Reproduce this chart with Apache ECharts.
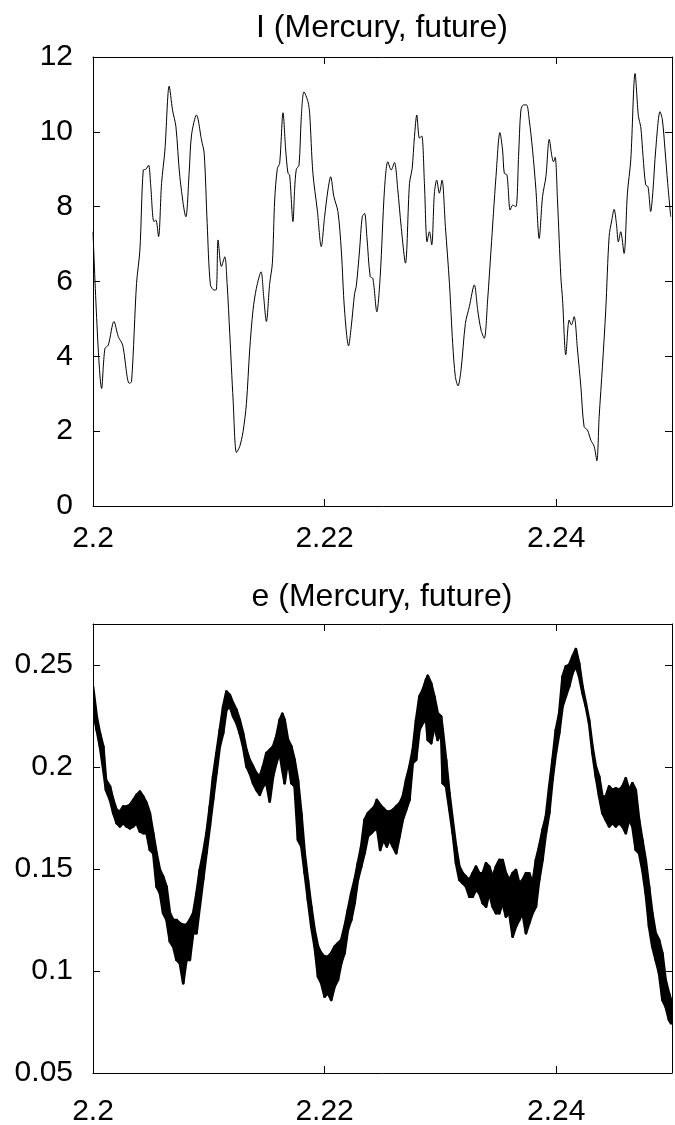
<!DOCTYPE html>
<html>
<head>
<meta charset="utf-8">
<script src="https://cdn.jsdelivr.net/npm/echarts@6/dist/echarts.min.js"></script>
<style>html,body{margin:0;padding:0;background:#fff}#c{width:675px;height:1125px}</style>
</head>
<body>
<div id="c"></div>
<script>
// ---- Top panel: inclination I (Mercury, future) ----
var iX = [2.20000,2.20075,2.20103,2.20132,2.20181,2.20218,2.20256,2.20313,2.20333,2.20376,2.20405,2.20434,2.20457,2.20480,2.20497,2.20526,2.20543,2.20566,2.20592,2.20621,2.20658,2.20687,2.20716,2.20750,2.20802,2.20830,2.20851,2.20894,2.20937,2.20960,2.20986,2.21014,2.21046,2.21066,2.21080,2.21109,2.21138,2.21158,2.21181,2.21210,2.21239,2.21267,2.21296,2.21325,2.21353,2.21382,2.21411,2.21451,2.21474,2.21497,2.21526,2.21549,2.21569,2.21592,2.21612,2.21641,2.21664,2.21684,2.21698,2.21727,2.21741,2.21756,2.21779,2.21799,2.21822,2.21856,2.21871,2.21899,2.21937,2.21971,2.22000,2.22029,2.22052,2.22080,2.22115,2.22144,2.22172,2.22207,2.22230,2.22259,2.22273,2.22302,2.22325,2.22345,2.22365,2.22394,2.22417,2.22451,2.22480,2.22517,2.22546,2.22575,2.22603,2.22632,2.22661,2.22698,2.22733,2.22756,2.22776,2.22796,2.22819,2.22839,2.22862,2.22885,2.22905,2.22925,2.22948,2.22968,2.22991,2.23014,2.23043,2.23078,2.23106,2.23129,2.23152,2.23178,2.23216,2.23250,2.23293,2.23322,2.23351,2.23379,2.23408,2.23437,2.23480,2.23514,2.23537,2.23552,2.23575,2.23603,2.23624,2.23652,2.23675,2.23695,2.23718,2.23744,2.23767,2.23796,2.23825,2.23853,2.23882,2.23911,2.23940,2.23963,2.23977,2.23991,2.24011,2.24040,2.24055,2.24083,2.24112,2.24132,2.24155,2.24184,2.24213,2.24241,2.24270,2.24299,2.24328,2.24351,2.24371,2.24399,2.24428,2.24457,2.24480,2.24500,2.24520,2.24537,2.24557,2.24586,2.24615,2.24644,2.24681,2.24710,2.24730,2.24750,2.24773,2.24793,2.24816,2.24836,2.24859,2.24897,2.24917,2.24940,2.24963,2.24989];
var iY = [7.33,3.14,4.21,4.30,4.93,4.53,4.30,3.28,3.32,5.95,6.84,8.98,9.00,9.11,8.62,7.60,7.64,7.20,8.62,9.51,11.22,10.58,10.14,8.80,7.73,8.89,9.92,10.45,9.78,9.43,7.55,5.91,5.77,5.79,7.11,6.40,6.66,5.95,4.61,2.83,1.43,1.59,1.99,2.74,4.17,5.24,5.82,6.26,5.59,4.93,5.95,6.49,8.18,9.02,9.16,10.51,9.51,8.89,8.85,7.60,8.45,9.00,9.11,10.41,11.07,10.81,10.49,8.89,7.91,6.93,7.73,8.45,8.80,8.27,7.87,6.84,5.24,4.28,4.79,5.68,5.86,6.84,7.73,7.82,7.20,6.13,6.08,5.19,6.13,8.45,9.20,8.98,9.18,8.45,7.47,6.49,8.62,9.02,9.87,10.45,9.83,9.89,8.62,7.06,7.33,6.98,8.36,8.71,8.36,8.71,7.47,5.95,4.35,3.46,3.21,3.63,4.88,5.33,5.91,5.24,4.70,4.48,5.51,6.84,8.80,9.98,9.51,8.89,8.85,7.91,8.04,8.00,9.34,10.58,10.72,10.72,10.32,9.51,8.45,7.15,8.27,8.80,9.80,9.34,9.20,9.32,8.18,6.13,5.51,4.04,4.97,4.84,5.06,4.17,3.19,2.12,2.03,1.76,1.59,1.21,2.39,3.72,5.24,7.20,7.64,7.93,7.55,7.06,7.33,6.75,8.36,9.25,11.56,10.41,10.14,9.34,8.58,8.53,7.87,8.45,9.51,10.54,10.32,9.51,8.62,7.73];

// ---- Bottom panel: eccentricity e (Mercury, future), upper / lower edge of the band ----
var eX = [2.20000,2.20032,2.20060,2.20089,2.20112,2.20147,2.20175,2.20204,2.20233,2.20261,2.20290,2.20319,2.20348,2.20376,2.20405,2.20434,2.20463,2.20491,2.20520,2.20549,2.20578,2.20606,2.20635,2.20664,2.20693,2.20721,2.20750,2.20779,2.20807,2.20836,2.20865,2.20894,2.20922,2.20951,2.20980,2.21009,2.21037,2.21066,2.21095,2.21124,2.21152,2.21181,2.21210,2.21239,2.21267,2.21296,2.21325,2.21353,2.21382,2.21411,2.21440,2.21468,2.21497,2.21526,2.21555,2.21583,2.21612,2.21635,2.21655,2.21684,2.21713,2.21741,2.21770,2.21799,2.21828,2.21856,2.21885,2.21914,2.21943,2.21971,2.22000,2.22029,2.22057,2.22086,2.22115,2.22144,2.22172,2.22201,2.22230,2.22259,2.22287,2.22316,2.22345,2.22374,2.22402,2.22431,2.22451,2.22480,2.22509,2.22537,2.22560,2.22589,2.22618,2.22647,2.22675,2.22704,2.22733,2.22761,2.22790,2.22819,2.22848,2.22876,2.22891,2.22920,2.22948,2.22977,2.23006,2.23020,2.23049,2.23078,2.23106,2.23135,2.23164,2.23193,2.23221,2.23250,2.23279,2.23307,2.23336,2.23365,2.23394,2.23422,2.23451,2.23480,2.23509,2.23537,2.23566,2.23595,2.23624,2.23652,2.23681,2.23710,2.23739,2.23767,2.23796,2.23825,2.23853,2.23882,2.23911,2.23940,2.23968,2.23997,2.24026,2.24055,2.24083,2.24112,2.24141,2.24170,2.24198,2.24227,2.24256,2.24284,2.24313,2.24342,2.24371,2.24399,2.24428,2.24457,2.24486,2.24514,2.24543,2.24572,2.24601,2.24629,2.24658,2.24687,2.24716,2.24744,2.24773,2.24802,2.24830,2.24859,2.24888,2.24917,2.24945,2.24974,2.24991];
var eUp = [0.2394,0.2247,0.2165,0.2100,0.1936,0.1904,0.1838,0.1789,0.1781,0.1806,0.1806,0.1814,0.1838,0.1863,0.1879,0.1855,0.1822,0.1773,0.1675,0.1577,0.1495,0.1462,0.1413,0.1283,0.1250,0.1250,0.1234,0.1226,0.1226,0.1250,0.1283,0.1381,0.1495,0.1577,0.1675,0.1806,0.1953,0.2067,0.2181,0.2296,0.2369,0.2353,0.2312,0.2279,0.2230,0.2165,0.2083,0.2034,0.2002,0.1969,0.1953,0.2002,0.2067,0.2083,0.2100,0.2149,0.2230,0.2260,0.2230,0.2132,0.2100,0.2034,0.1936,0.1773,0.1577,0.1446,0.1315,0.1201,0.1119,0.1087,0.1070,0.1070,0.1087,0.1119,0.1136,0.1152,0.1217,0.1299,0.1381,0.1446,0.1528,0.1610,0.1740,0.1773,0.1789,0.1806,0.1838,0.1814,0.1797,0.1781,0.1781,0.1789,0.1806,0.1822,0.1855,0.1936,0.2002,0.2083,0.2230,0.2345,0.2378,0.2427,0.2446,0.2410,0.2345,0.2263,0.2247,0.2181,0.2034,0.1871,0.1740,0.1610,0.1511,0.1479,0.1462,0.1446,0.1479,0.1511,0.1479,0.1479,0.1528,0.1511,0.1462,0.1511,0.1544,0.1544,0.1479,0.1446,0.1479,0.1495,0.1430,0.1446,0.1479,0.1479,0.1430,0.1544,0.1610,0.1691,0.1757,0.1904,0.2034,0.2181,0.2263,0.2443,0.2492,0.2500,0.2541,0.2577,0.2508,0.2394,0.2312,0.2230,0.2100,0.2002,0.1953,0.1855,0.1855,0.1904,0.1887,0.1895,0.1887,0.1904,0.1944,0.1887,0.1920,0.1887,0.1740,0.1642,0.1544,0.1413,0.1283,0.1185,0.1152,0.1087,0.0956,0.0891,0.0858];
var eLo = [0.2279,0.2181,0.2100,0.1985,0.1887,0.1838,0.1773,0.1724,0.1708,0.1724,0.1708,0.1699,0.1708,0.1724,0.1683,0.1675,0.1675,0.1593,0.1577,0.1413,0.1381,0.1283,0.1250,0.1144,0.1119,0.1054,0.1038,0.0940,0.1054,0.1054,0.1185,0.1185,0.1315,0.1446,0.1577,0.1708,0.1838,0.1969,0.2100,0.2165,0.2279,0.2296,0.2247,0.2214,0.2165,0.2100,0.2002,0.1969,0.1920,0.1887,0.1863,0.1904,0.1920,0.1830,0.1953,0.2018,0.2067,0.1985,0.1920,0.2034,0.1920,0.1904,0.1642,0.1610,0.1479,0.1348,0.1217,0.1119,0.0972,0.0940,0.0874,0.0891,0.0858,0.0923,0.0956,0.1038,0.1087,0.1201,0.1250,0.1332,0.1446,0.1511,0.1577,0.1659,0.1675,0.1691,0.1708,0.1593,0.1642,0.1610,0.1642,0.1610,0.1577,0.1659,0.1740,0.1789,0.1838,0.2018,0.2034,0.2181,0.2214,0.2230,0.2132,0.2116,0.2198,0.2132,0.2165,0.1920,0.1904,0.1789,0.1675,0.1528,0.1446,0.1430,0.1413,0.1364,0.1364,0.1397,0.1381,0.1332,0.1315,0.1381,0.1315,0.1283,0.1283,0.1332,0.1266,0.1283,0.1168,0.1217,0.1250,0.1283,0.1185,0.1234,0.1283,0.1315,0.1446,0.1544,0.1675,0.1773,0.1936,0.2067,0.2165,0.2296,0.2345,0.2394,0.2459,0.2492,0.2443,0.2361,0.2296,0.2214,0.2067,0.1953,0.1855,0.1773,0.1740,0.1708,0.1724,0.1708,0.1724,0.1708,0.1675,0.1740,0.1708,0.1593,0.1577,0.1495,0.1381,0.1217,0.1119,0.1054,0.0989,0.0858,0.0825,0.0760,0.0743];

var xTicks = {min: 2.2, max: 2.25, interval: 0.02};
var titles = ['I (Mercury, future)', 'e (Mercury, future)'];

var FONT = 'Liberation Sans';
var BLACK = '#000';

function pairs(xs, ys) { return xs.map(function (x, i) { return [x, ys[i]]; }); }
// one quad per interval of the band: [x0, up0, lo0, x1, up1, lo1]
var bandSegs = [];
for (var k = 0; k < eX.length - 1; k++) {
  bandSegs.push([eX[k], eUp[k], eLo[k], eX[k + 1], eUp[k + 1], eLo[k + 1]]);
}

function xAxisDef(grid, pos, showLabel, margin) {
  return {
    type: 'value', gridIndex: grid, position: pos,
    min: xTicks.min, max: xTicks.max, interval: xTicks.interval,
    axisLine: {show: true, onZero: false, lineStyle: {color: BLACK, width: 1}},
    axisTick: {show: true, inside: true, length: 7, lineStyle: {color: BLACK, width: 1}},
    splitLine: {show: false},
    axisLabel: {show: showLabel, showMaxLabel: false, margin: margin, color: BLACK,
      fontFamily: FONT, fontSize: 30}
  };
}
function yAxisDef(grid, pos, showLabel, min, max, interval) {
  return {
    type: 'value', gridIndex: grid, position: pos,
    min: min, max: max, interval: interval,
    axisLine: {show: true, onZero: false, lineStyle: {color: BLACK, width: 1}},
    axisTick: {show: true, inside: true, length: 7, lineStyle: {color: BLACK, width: 1}},
    splitLine: {show: false},
    axisLabel: {show: showLabel, showMaxLabel: interval === 2, margin: 20, color: BLACK,
      fontFamily: FONT, fontSize: 30}
  };
}

var chart = echarts.init(document.getElementById('c'), null, {renderer: 'canvas'});
chart.setOption({
  animation: false,
  backgroundColor: '#fff',
  title: [
    {text: titles[0], left: 382, top: 12, textAlign: 'center', padding: 0,
      textStyle: {fontFamily: FONT, fontSize: 32, fontWeight: 'normal', color: BLACK}},
    {text: titles[1], left: 382, top: 581, textAlign: 'center', padding: 0,
      textStyle: {fontFamily: FONT, fontSize: 32, fontWeight: 'normal', color: BLACK}}
  ],
  grid: [
    {left: 93, right: 3, top: 57, height: 449, containLabel: false, outerBoundsMode: 'none'},
    {left: 93, right: 3, top: 624, height: 449, containLabel: false, outerBoundsMode: 'none'}
  ],
  xAxis: [
    xAxisDef(0, 'bottom', true, 18),
    xAxisDef(0, 'top', false, 8),
    xAxisDef(1, 'bottom', true, 24),
    xAxisDef(1, 'top', false, 8)
  ],
  yAxis: [
    yAxisDef(0, 'left', true, 0, 12, 2),
    yAxisDef(0, 'right', false, 0, 12, 2),
    yAxisDef(1, 'left', true, 0.05, 0.27, 0.05),
    yAxisDef(1, 'right', false, 0.05, 0.27, 0.05)
  ],
  series: [
    {type: 'line', xAxisIndex: 0, yAxisIndex: 0, data: pairs(iX, iY), showSymbol: false,
      symbol: 'none', smooth: 0.3, lineStyle: {color: BLACK, width: 1}},
    {type: 'custom', xAxisIndex: 2, yAxisIndex: 2, data: bandSegs, clip: true,
      encode: {x: [0, 3], y: [1, 2, 4, 5]},
      renderItem: function (params, api) {
        var a = api.coord([api.value(0), api.value(1)]);
        var b = api.coord([api.value(3), api.value(4)]);
        var c = api.coord([api.value(3), api.value(5)]);
        var d = api.coord([api.value(0), api.value(2)]);
        return {
          type: 'polygon',
          shape: {points: [a, b, c, d]},
          style: {fill: BLACK, stroke: BLACK, lineWidth: 2.6, lineJoin: 'round'}
        };
      }
    }
  ]
});
</script>
</body>
</html>
